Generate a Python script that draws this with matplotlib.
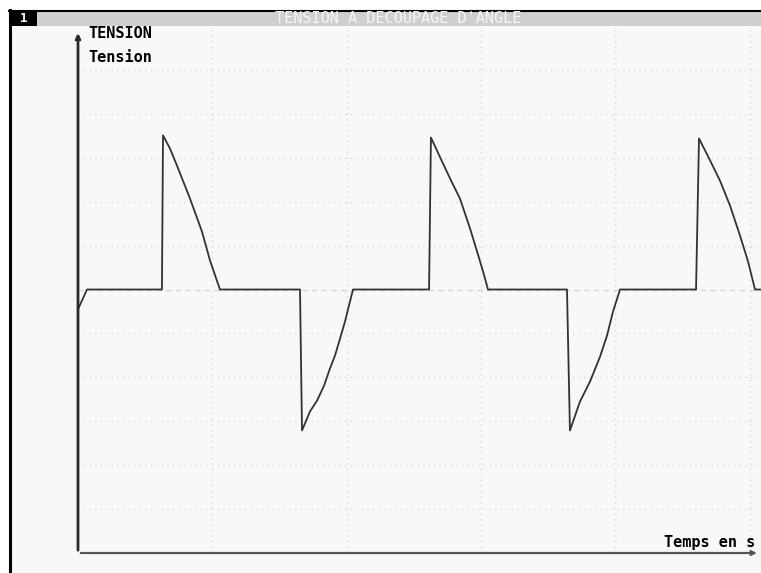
import matplotlib.pyplot as plt
from matplotlib.patches import Rectangle

#%% DONNEES (lues sur la capture)
t = [0.0, 0.00067, 0.00625, 0.00633, 0.00685, 0.00745, 0.00834, 0.00923, 0.00983, 0.01057,
     0.01653, 0.01668, 0.01727, 0.01780, 0.01832, 0.01876, 0.01914, 0.01951, 0.01988, 0.02018, 0.02048,
     0.02614, 0.02628, 0.02710, 0.02770, 0.02844, 0.02919, 0.02971, 0.03016, 0.03053,
     0.03641, 0.03663, 0.03738, 0.03812, 0.03887, 0.03939, 0.03984, 0.04036,
     0.04602, 0.04624, 0.04706, 0.04780, 0.04855, 0.04929, 0.04989, 0.05041, 0.05078]
u = [-0.45, 0.0, 0.0, 3.51, 3.21, 2.76, 2.07, 1.32, 0.66, 0.0,
     0.0, -3.21, -2.78, -2.53, -2.19, -1.80, -1.50, -1.12, -0.73, -0.36, 0.0,
     0.0, 3.46, 2.92, 2.53, 2.07, 1.39, 0.87, 0.41, 0.0,
     0.0, -3.21, -2.55, -2.10, -1.53, -1.05, -0.50, 0.0,
     0.0, 3.44, 2.94, 2.48, 1.91, 1.23, 0.64, 0.0, 0.0]

titre = "TENSION A DECOUPAGE D'ANGLE"
nom_y1 = "TENSION"
nom_y2 = "Tension"
nom_x = "Temps en s"

W, H = 761, 573
mono = 'DejaVu Sans Mono'

def fx(px):
    return px / W

def fy(py):
    return 1 - py / H

fig = plt.figure(figsize=(W / 100, H / 100), dpi=100, facecolor='white')

# fond de la fenetre + cadre
fig.add_artist(Rectangle((fx(10), 0), 1 - fx(10), fy(10), transform=fig.transFigure,
                         facecolor='#f8f8f8', edgecolor='none', zorder=0))
fig.add_artist(Rectangle((fx(37), fy(26)), 1 - fx(37), fy(11) - fy(26), transform=fig.transFigure,
                         facecolor='#cfcfcf', edgecolor='none', zorder=1))
fig.add_artist(Rectangle((fx(10), fy(26)), fx(37) - fx(10), fy(11) - fy(26), transform=fig.transFigure,
                         facecolor='black', edgecolor='none', zorder=1))
fig.add_artist(plt.Line2D([fx(9), 1], [fy(10.5), fy(10.5)], transform=fig.transFigure,
                          color='black', lw=1.5, zorder=2))
fig.add_artist(plt.Line2D([fx(10), fx(10)], [0, fy(10)], transform=fig.transFigure,
                          color='black', lw=2.2, zorder=2))
fig.text(fx(20), fy(18.5), "1", color='white', fontsize=9, fontweight='bold',
         family=mono, ha='left', va='center')
fig.text(fx(398), fy(18.5), titre, color='#f6f6f6', fontsize=11,
         family=mono, ha='center', va='center')

#%% GRAPHE
ax = fig.add_axes([fx(78), fy(553), fx(761) - fx(78), fy(26) - fy(553)])
ax.set_facecolor('none')
ax.set_xlim(0, (761 - 78) / 13430)
ax.set_ylim(-6, 6)
for s in ax.spines.values():
    s.set_visible(False)
ax.set_xticks([])
ax.set_yticks([])

for gx in [0.01, 0.02, 0.03, 0.04, 0.05]:
    ax.axvline(gx, color='#d8d8d8', lw=1, ls=(0, (1, 3)), zorder=1)
for gy in [-5, -4, -3, -2, -1, 1, 2, 3, 4, 5]:
    ax.axhline(gy, color='#d8d8d8', lw=1, ls=(0, (1, 3)), zorder=1)
ax.axhline(0, color='#d6d6d6', lw=1, ls=(0, (4, 3)), zorder=1)

ax.plot(t, u, color='#333333', lw=1.3, zorder=3)

# axes avec fleches
ax.annotate('', xy=(0, 0.992), xytext=(0, 0), xycoords='axes fraction',
            arrowprops=dict(arrowstyle='->', color='#2a2a2a', lw=2, mutation_scale=7))
ax.annotate('', xy=(0.998, 0), xytext=(0, 0), xycoords='axes fraction',
            arrowprops=dict(arrowstyle='->', color='#555555', lw=1.6, mutation_scale=7))

fig.text(fx(88), fy(33), nom_y1, color='black', fontsize=11, fontweight='bold',
         family=mono, ha='left', va='center')
fig.text(fx(88), fy(57), nom_y2, color='black', fontsize=11, fontweight='bold',
         family=mono, ha='left', va='center')
fig.text(fx(755), fy(543), nom_x, color='black', fontsize=11, fontweight='bold',
         family=mono, ha='right', va='center')

fig.savefig('out.png', dpi=100)
